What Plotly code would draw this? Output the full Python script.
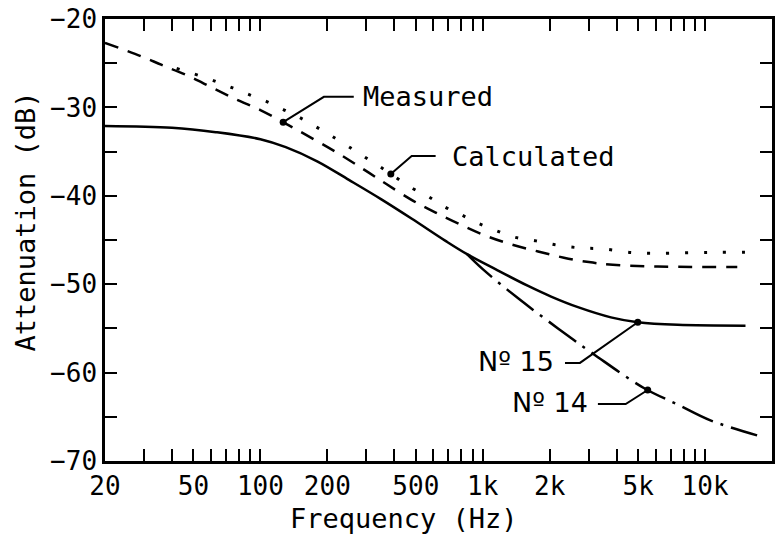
import numpy as np
import plotly.graph_objects as go

# ---- data: attenuation (dB) versus frequency (Hz) ----
freq_no15 = [20, 40, 63, 100, 130, 180, 250, 350, 480, 680, 850, 1140, 1600,
             2030, 2680, 3770, 4980, 7520, 15200]
att_no15 = [-32.1, -32.3, -32.8, -33.6, -34.5, -36.1, -38.2, -40.4, -42.6,
            -45.1, -46.6, -48.3, -50.2, -51.4, -52.6, -53.75, -54.3, -54.6,
            -54.7]

freq_no14 = [850, 1000, 1443, 2180, 3190, 5350, 7520, 10570, 17140]
att_no14 = [-46.6, -48.3, -51.6, -55.0, -58.0, -61.8, -63.6, -65.4, -67.1]

freq_measured = [20, 29, 36, 47, 61, 78, 100, 125, 150, 217, 295, 370, 489,
                 614, 785, 1028, 1344, 1774, 2318, 3000, 3846, 6120, 13960]
att_measured = [-22.7, -24.2, -25.2, -26.4, -27.8, -29.1, -30.3, -31.6, -32.7,
                -35.0, -37.1, -38.7, -40.6, -41.9, -43.2, -44.5, -45.5, -46.3,
                -47.0, -47.5, -47.8, -48.0, -48.05]

freq_calculated = [42, 53, 63.5, 75, 90, 108, 128, 149, 178, 208, 255, 298,
                   352, 479, 570, 680, 794, 936, 1138, 1400, 1738, 2180, 2767,
                   3468, 4634, 6120, 10240, 17500]
att_calculated = [-25.6, -26.4, -27.1, -27.8, -28.6, -29.4, -30.3, -31.1,
                  -32.2, -33.2, -34.6, -35.7, -36.85, -39.1, -40.1, -41.3,
                  -42.1, -43.0, -43.9, -44.7, -45.1, -45.6, -45.9, -46.0,
                  -46.4, -46.5, -46.4, -46.4]

# ---- axis ticks ----
x_tick_vals = [20, 30, 40, 50, 60, 70, 80, 90, 100, 200, 300, 400, 500, 600,
               700, 800, 900, 1000, 2000, 3000, 4000, 5000, 6000, 7000, 8000,
               9000, 10000]
x_tick_labels = {20: "20", 50: "50", 100: "100", 200: "200", 500: "500",
                 1000: "1k", 2000: "2k", 5000: "5k", 10000: "10k"}
y_tick_vals = [-70, -65, -60, -55, -50, -45, -40, -35, -30, -25, -20]
y_tick_labels = {-70: "\u221270", -60: "\u221260", -50: "\u221250",
                 -40: "\u221240", -30: "\u221230", -20: "\u221220"}

FONT = "DejaVu Sans Mono"
LABEL_FONT = "DejaVu Sans"
INK = "black"

curves = {
    "no15": (freq_no15, att_no15, "solid", 2.5),
    "no14": (freq_no14, att_no14, "34px,8px,3px,8px", 2.5),
    "measured": (freq_measured, att_measured, "14px,10px", 2.5),
    "calculated": (freq_calculated, att_calculated, "3px,16px", 3),
}

fig = go.Figure()
for name, (f, a, dash, w) in curves.items():
    fig.add_trace(go.Scatter(x=f, y=a, mode="lines", name=name,
                             line=dict(color=INK, width=w, dash=dash,
                                       shape="spline", smoothing=1.0),
                             hoverinfo="skip"))


def on_curve(name, f):
    cf, ca = curves[name][0], curves[name][1]
    return float(np.interp(np.log10(f), np.log10(cf), ca))


# callouts: text, font, curve, tip frequency, elbow (Hz, dB), line end Hz,
# text anchor (Hz, dB, side)
callouts = [
    ("Measured", FONT, "measured", 126.6, (193, -28.8), 263,
     (283, -28.8, "left")),
    ("Calculated", FONT, "calculated", 386, (479, -35.5), 614,
     (716, -35.6, "left")),
    ("N\u00ba 15", LABEL_FONT, "no15", 4980, (2736, -58.9), 2344,
     (2138, -58.8, "right")),
    ("N\u00ba 14", LABEL_FONT, "no14", 5520, (4395, -63.55), 3296,
     (3034, -63.4, "right")),
]

annotations = []
for text, fam, cname, tip_f, (el_f, el_a), end_f, (tx_f, tx_a, side) in callouts:
    tip_a = on_curve(cname, tip_f)
    fig.add_trace(go.Scatter(x=[end_f, el_f, tip_f], y=[el_a, el_a, tip_a],
                             mode="lines", line=dict(color=INK, width=2),
                             hoverinfo="skip"))
    fig.add_trace(go.Scatter(x=[tip_f], y=[tip_a], mode="markers",
                             marker=dict(color=INK, size=7),
                             hoverinfo="skip"))
    annotations.append(dict(x=np.log10(tx_f), y=tx_a, xref="x", yref="y",
                            text=text, showarrow=False, xanchor=side,
                            yanchor="middle",
                            font=dict(family=fam, size=27, color=INK)))

annotations.append(dict(x=0.449, y=-0.129, xref="paper", yref="paper",
                        text="Frequency (Hz)", showarrow=False,
                        xanchor="center", yanchor="middle",
                        font=dict(family=FONT, size=27, color=INK)))
annotations.append(dict(x=-0.119, y=0.541, xref="paper", yref="paper",
                        text="Attenuation (dB)", showarrow=False,
                        textangle=-90, xanchor="center", yanchor="middle",
                        font=dict(family=FONT, size=27, color=INK)))

axis_common = dict(showline=True, linecolor=INK, linewidth=2.5,
                   mirror="allticks", ticks="inside", ticklen=12,
                   tickwidth=2, tickcolor=INK, showgrid=False, zeroline=False,
                   tickfont=dict(family=FONT, size=26, color=INK))

fig.update_layout(
    width=777, height=534,
    margin=dict(l=105, r=2, t=19, b=73),
    paper_bgcolor="white", plot_bgcolor="white",
    showlegend=False,
    font=dict(family=FONT, color=INK),
    annotations=annotations,
    xaxis=dict(type="log", range=[np.log10(20), np.log10(20000)],
               tickmode="array", tickvals=x_tick_vals,
               ticktext=[x_tick_labels.get(v, "") for v in x_tick_vals],
               **axis_common),
    yaxis=dict(range=[-70, -20], tickmode="array", tickvals=y_tick_vals,
               ticktext=[y_tick_labels.get(v, "") for v in y_tick_vals],
               **axis_common),
)

fig.write_html("out.html")
